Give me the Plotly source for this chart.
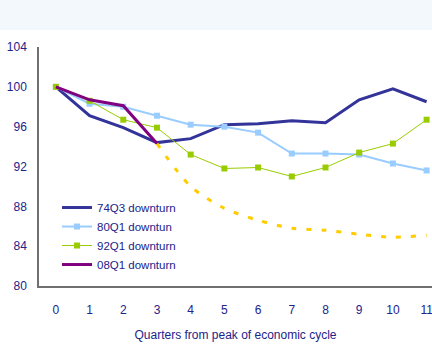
import plotly.graph_objects as go

quarters = list(range(12))
tick_vals_y = [80, 84, 88, 92, 96, 100, 104]

dt_74q3 = [100, 97.1, 95.9, 94.4, 94.8, 96.2, 96.3, 96.6, 96.4, 98.7, 99.8, 98.5]
dt_80q1 = [100, 98.3, 98.0, 97.1, 96.2, 96.0, 95.4, 93.3, 93.3, 93.2, 92.3, 91.6]
dt_92q1 = [100, 98.6, 96.7, 95.9, 93.2, 91.8, 91.9, 91.0, 91.9, 93.4, 94.3, 96.7]
dt_08q1 = [100, 98.7, 98.1, 94.3]

proj_quarters = [3, 4, 5, 6, 7, 8, 9, 10, 11]
proj_08q1 = [94.3, 90.0, 87.8, 86.6, 85.8, 85.6, 85.2, 84.9, 85.1]

navy_text = "#22228a"
font_family = "Liberation Sans, Arial, sans-serif"

fig = go.Figure()

fig.add_trace(go.Scatter(
    x=quarters, y=dt_74q3, name="74Q3 downturn", mode="lines",
    line=dict(color="#333399", width=3),
))
fig.add_trace(go.Scatter(
    x=quarters, y=dt_80q1, name="80Q1 downtun", mode="lines+markers",
    line=dict(color="#99ccff", width=2),
    marker=dict(symbol="square", size=6, color="#99ccff"),
))
fig.add_trace(go.Scatter(
    x=quarters, y=dt_92q1, name="92Q1 downturn", mode="lines+markers",
    line=dict(color="#99cc00", width=1),
    marker=dict(symbol="square", size=6, color="#99cc00"),
))
fig.add_trace(go.Scatter(
    x=proj_quarters, y=proj_08q1, name="08Q1 projection", mode="lines",
    line=dict(color="#ffcc00", width=3, dash="5px,10px", shape="spline", smoothing=0.8),
    showlegend=False,
))
fig.add_trace(go.Scatter(
    x=quarters[:len(dt_08q1)], y=dt_08q1, name="08Q1 downturn", mode="lines",
    line=dict(color="#800080", width=3),
))

# light banner strip across the top of the page
fig.add_shape(
    type="rect", xref="paper", yref="paper",
    x0=-0.2, x1=1.05, y0=1.0711, y1=1.25,
    fillcolor="#f3f8fd", line=dict(width=0), layer="below",
)

fig.update_layout(
    width=432, height=347,
    margin=dict(l=39, r=0, t=47, b=61),
    paper_bgcolor="white", plot_bgcolor="white",
    font=dict(family=font_family, size=12, color=navy_text),
    showlegend=True,
    legend=dict(
        x=0.0458, y=0.389, xanchor="left", yanchor="top",
        bgcolor="rgba(0,0,0,0)", borderwidth=0,
        font=dict(size=11.5, color=navy_text),
        traceorder="normal",
    ),
    xaxis=dict(
        range=[-0.5, 11.16], tickmode="array", tickvals=quarters,
        showgrid=False, zeroline=False, showline=True,
        linecolor="#707070", linewidth=1.5, ticks="",
        ticklabelstandoff=12, ticklabeloverflow="allow",
        title=dict(text="Quarters from peak of economic cycle", standoff=14,
                   font=dict(size=12, color=navy_text)),
    ),
    yaxis=dict(
        range=[80, 104], tickmode="array", tickvals=tick_vals_y,
        showgrid=False, zeroline=False, showline=True,
        linecolor="#707070", linewidth=1.5, ticks="",
        ticklabelstandoff=8,
    ),
)

fig.write_html("out.html")
